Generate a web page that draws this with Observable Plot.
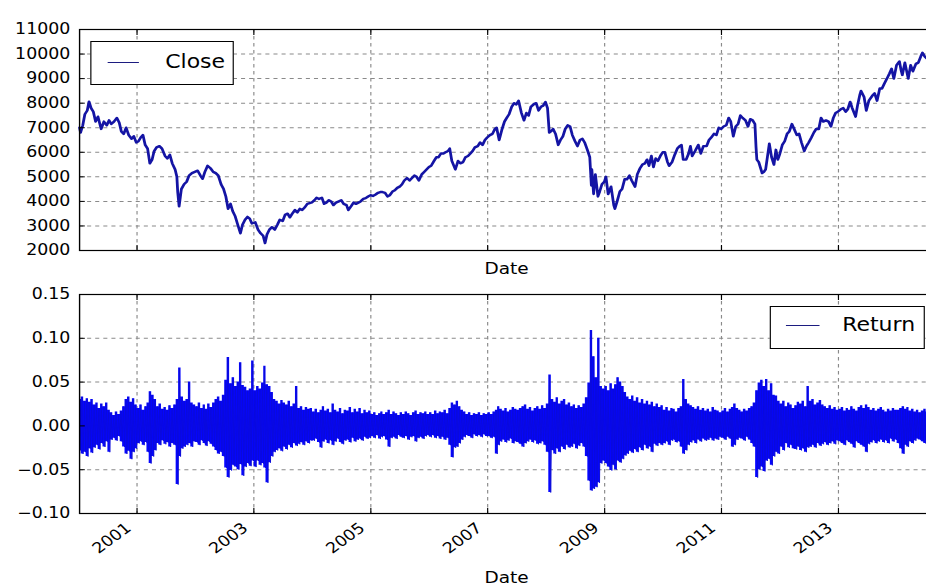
<!DOCTYPE html>
<html>
<head>
<meta charset="utf-8">
<script src="https://cdn.jsdelivr.net/npm/d3@7"></script>
<script src="https://cdn.jsdelivr.net/npm/@observablehq/plot@0.6"></script>
<style>
  html, body { margin: 0; padding: 0; background: #fff; }
  #outer { position: relative; width: 926px; height: 587px; overflow: hidden; background: #fff; }
  #inner { position: absolute; left: 0; top: 0; width: 806px; height: 587px; transform: scaleX(1.1575); transform-origin: 0 0; }
  .panel { position: absolute; left: 0; }
  .legend { position: absolute; background: #fff; border: 1px solid #000; box-sizing: border-box; font-family: "DejaVu Sans", sans-serif; font-size: 19px; color: #000; }
  .legend .swatch { position: absolute; height: 1.5px; background: #1c1c80; }
  .legend .label { position: absolute; line-height: 1; white-space: nowrap; }
</style>
</head>
<body>
<div id="outer">
  <div id="inner">
    <div id="top" class="panel" style="top:0"></div>
    <div id="bot" class="panel" style="top:290px"></div>
    <div class="legend" style="left:77.8px; top:41px; width:124.4px; height:44px;">
      <div class="swatch" style="left:13.8px; width:27.7px; top:19.5px;"></div>
      <div class="label" style="left:63.9px; top:10px;">Close</div>
    </div>
    <div class="legend" style="left:665.2px; top:306px; width:133.8px; height:43px;">
      <div class="swatch" style="left:13px; width:28.5px; top:17.5px;"></div>
      <div class="label" style="left:61.4px; top:8px;">Return</div>
    </div>
  </div>
</div>
<script>
// ---------------- data ----------------
const xTickYears = [2001, 2003, 2005, 2007, 2009, 2011, 2013];
const closeTicks = [2000, 3000, 4000, 5000, 6000, 7000, 8000, 9000, 10000, 11000];
const returnTicks = [-0.10, -0.05, 0.00, 0.05, 0.10, 0.15];

const closeDates = [
"2000-01-08","2000-01-14","2000-01-28","2000-02-10","2000-02-25","2000-03-07","2000-03-20","2000-04-03","2000-04-17","2000-05-02",
"2000-05-22","2000-06-08","2000-06-26","2000-07-10","2000-07-24","2000-08-10","2000-08-28","2000-09-12","2000-09-25","2000-10-10",
"2000-10-25","2000-11-10","2000-11-28","2000-12-12","2000-12-27","2001-01-10","2001-01-24","2001-02-07","2001-02-21","2001-03-08",
"2001-03-22","2001-04-05","2001-04-18","2001-05-03","2001-05-21","2001-06-06","2001-06-25","2001-07-10","2001-07-25","2001-08-09",
"2001-08-27","2001-09-07","2001-09-12","2001-09-21","2001-10-05","2001-10-22","2001-11-07","2001-11-22","2001-12-10","2001-12-28",
"2002-01-15","2002-02-01","2002-02-15","2002-03-01","2002-03-18","2002-04-05","2002-04-22","2002-05-08","2002-05-24","2002-06-10",
"2002-06-26","2002-07-10","2002-07-24","2002-08-08","2002-08-22","2002-09-06","2002-09-20","2002-10-09","2002-10-22","2002-11-07",
"2002-11-22","2002-12-06","2002-12-20","2003-01-10","2003-01-27","2003-02-12","2003-02-28","2003-03-12","2003-03-24","2003-04-08",
"2003-04-24","2003-05-12","2003-05-28","2003-06-12","2003-06-30","2003-07-15","2003-07-31","2003-08-14","2003-08-29","2003-09-15",
"2003-09-30","2003-10-15","2003-10-30","2003-11-14","2003-12-01","2003-12-30","2004-01-15","2004-01-28","2004-02-12","2004-03-01",
"2004-03-15","2004-03-29","2004-04-14","2004-04-28","2004-05-12","2004-05-28","2004-06-15","2004-06-30","2004-07-15","2004-08-02",
"2004-08-13","2004-08-30","2004-09-15","2004-09-30","2004-10-15","2004-10-29","2004-11-15","2004-11-30","2004-12-15","2004-12-30",
"2005-01-14","2005-01-31","2005-02-15","2005-03-01","2005-03-15","2005-03-31","2005-04-15","2005-04-29","2005-05-16","2005-05-31",
"2005-06-15","2005-06-30","2005-07-15","2005-07-29","2005-08-15","2005-08-31","2005-09-15","2005-09-30","2005-10-14","2005-10-28",
"2005-11-15","2005-11-30","2005-12-15","2005-12-30","2006-01-13","2006-01-31","2006-02-15","2006-02-28","2006-03-15","2006-03-31",
"2006-04-13","2006-04-28","2006-05-09","2006-05-22","2006-06-13","2006-06-30","2006-07-14","2006-07-31","2006-08-15","2006-08-31",
"2006-09-15","2006-09-29","2006-10-13","2006-10-31","2006-11-15","2006-11-30","2006-12-15","2006-12-29","2007-01-15","2007-01-31",
"2007-02-15","2007-02-26","2007-03-14","2007-03-30","2007-04-16","2007-04-30","2007-05-15","2007-05-31","2007-06-15","2007-06-29",
"2007-07-13","2007-07-31","2007-08-16","2007-08-31","2007-09-14","2007-09-28","2007-10-15","2007-10-31","2007-11-15","2007-11-30",
"2007-12-14","2007-12-28","2008-01-10","2008-01-21","2008-01-31","2008-02-14","2008-02-29","2008-03-17","2008-03-31","2008-04-15",
"2008-04-30","2008-05-15","2008-05-30","2008-06-13","2008-06-30","2008-07-15","2008-07-31","2008-08-15","2008-08-29","2008-09-15",
"2008-09-30","2008-10-10","2008-10-13","2008-10-24","2008-11-04","2008-11-20","2008-12-01","2008-12-15","2008-12-30","2009-01-09",
"2009-01-23","2009-02-10","2009-02-27","2009-03-06","2009-03-20","2009-04-06","2009-04-20","2009-05-06","2009-05-20","2009-06-05",
"2009-06-19","2009-07-10","2009-07-24","2009-08-10","2009-08-25","2009-09-10","2009-09-23","2009-10-05","2009-10-20","2009-11-02",
"2009-11-16","2009-11-30","2009-12-15","2009-12-30","2010-01-12","2010-01-29","2010-02-08","2010-02-26","2010-03-15","2010-03-31",
"2010-04-15","2010-04-26","2010-05-07","2010-05-25","2010-06-10","2010-06-21","2010-07-02","2010-07-20","2010-08-09","2010-08-25",
"2010-09-10","2010-09-30","2010-10-15","2010-10-29","2010-11-15","2010-11-30","2010-12-15","2010-12-30","2011-01-14","2011-01-31",
"2011-02-15","2011-02-28","2011-03-16","2011-03-31","2011-04-15","2011-04-29","2011-05-13","2011-05-31","2011-06-16","2011-06-30",
"2011-07-15","2011-07-29","2011-08-05","2011-08-10","2011-08-22","2011-09-12","2011-09-23","2011-10-04","2011-10-27","2011-11-10",
"2011-11-25","2011-12-07","2011-12-19","2011-12-30","2012-01-16","2012-01-31","2012-02-15","2012-02-29","2012-03-16","2012-03-30",
"2012-04-16","2012-04-30","2012-05-15","2012-06-01","2012-06-15","2012-06-29","2012-07-16","2012-07-31","2012-08-15","2012-08-31",
"2012-09-14","2012-09-28","2012-10-15","2012-10-31","2012-11-15","2012-11-30","2012-12-14","2012-12-28","2013-01-15","2013-01-31",
"2013-02-15","2013-02-28","2013-03-15","2013-03-28","2013-04-18","2013-04-30","2013-05-15","2013-05-22","2013-06-10","2013-06-24",
"2013-07-10","2013-07-31","2013-08-15","2013-08-30","2013-09-16","2013-09-30","2013-10-15","2013-10-31","2013-11-15","2013-11-29",
"2013-12-13","2013-12-30","2014-01-17","2014-01-27","2014-02-04","2014-02-20","2014-03-13","2014-03-28","2014-04-11","2014-04-30",
"2014-05-15","2014-05-30","2014-06-10","2014-06-24","2014-07-10"
];
const closeValues = [
7000,6800,7100,7550,7700,8060,7800,7650,7250,7450,
6950,7250,7100,7300,7150,7250,7400,7200,6850,6750,
7000,6700,6550,6650,6400,6450,6600,6700,6300,6150,
5550,5700,6050,6200,6250,6150,5850,5750,5900,5550,
5300,5000,4400,3800,4500,4700,4800,5050,5150,5200,
5250,5050,4920,5200,5450,5350,5200,5150,5050,4700,
4500,4200,3700,3900,3600,3400,3100,2700,3050,3250,
3370,3300,3100,3150,2850,2700,2600,2300,2650,2850,
2950,2850,3050,3250,3200,3450,3500,3350,3500,3650,
3550,3700,3650,3750,3900,3960,4050,4150,4100,4150,
3900,3950,4050,4000,3850,3950,4000,4050,3900,3850,
3650,3800,3950,3900,3950,4000,4100,4130,4200,4250,
4220,4280,4350,4380,4380,4350,4200,4250,4400,4450,
4550,4600,4700,4850,4950,4850,4950,5050,5000,4850,
5100,5200,5300,5400,5450,5650,5800,5800,5950,5950,
6000,6050,6150,5650,5300,5650,5550,5600,5800,5850,
5950,6050,6200,6250,6400,6300,6500,6600,6700,6750,
6950,7000,6500,6900,7250,7400,7550,7850,8000,7950,
8100,7600,7300,7600,7500,7850,7950,8000,7700,7850,
7900,8050,7800,6800,6850,6950,6750,6300,6500,6650,
6950,7100,7050,6700,6450,6250,6500,6550,6400,6100,
5800,4650,5300,4300,5100,4200,4400,4700,4800,5000,
4300,4600,3850,3700,4000,4400,4500,4900,4900,5050,
4850,4600,5100,5350,5500,5550,5700,5450,5850,5400,
5750,5650,5850,6000,6000,5600,5450,5600,5900,6150,
6250,6300,5700,5700,5950,6250,5850,6050,6300,5950,
6250,6250,6500,6600,6750,6700,7000,6950,7050,7100,
7400,7250,6650,7050,7150,7500,7400,7300,7050,7350,
7300,7150,6200,5700,5600,5150,5200,5300,6350,5800,
5500,6100,5700,5900,6300,6450,6750,6850,7150,6950,
6700,6750,6400,6050,6250,6400,6600,6800,6950,6950,
7400,7250,7300,7250,7050,7400,7600,7650,7750,7800,
7650,7750,8050,7800,7450,7900,8350,8500,8250,7700,
8100,8300,8400,8100,8600,8600,8800,9000,9200,9400,
9000,9550,9700,9350,9150,9650,9000,9550,9300,9600,
9650,9900,10050,9900,9800
];

// Daily return band, read per half-month: largest (retHigh) and smallest (retLow) return
const retHigh = [
// 2000
0.030,0.033,0.028,0.031,0.027,0.030, 0.024,0.026,0.020,0.025,0.022,0.026,
0.018,0.015,0.012,0.016,0.013,0.017, 0.022,0.030,0.033,0.027,0.031,0.024,
// 2001
0.020,0.024,0.018,0.022,0.026,0.039, 0.035,0.030,0.022,0.025,0.019,0.021,
0.018,0.023,0.020,0.024,0.030,0.066, 0.033,0.028,0.030,0.050,0.026,0.024,
// 2002
0.022,0.026,0.020,0.024,0.019,0.025, 0.021,0.026,0.030,0.033,0.028,0.035,
0.052,0.078,0.048,0.055,0.045,0.050, 0.072,0.046,0.044,0.040,0.042,0.074,
// 2003
0.040,0.045,0.042,0.049,0.068,0.047, 0.045,0.038,0.030,0.028,0.025,0.029,
0.026,0.024,0.028,0.022,0.025,0.045, 0.020,0.022,0.018,0.021,0.019,0.020,
// 2004
0.016,0.019,0.015,0.018,0.022,0.017, 0.019,0.015,0.025,0.018,0.016,0.020,
0.014,0.018,0.017,0.021,0.015,0.019, 0.016,0.020,0.014,0.018,0.015,0.017,
// 2005
0.013,0.015,0.012,0.014,0.016,0.013, 0.015,0.018,0.013,0.016,0.014,0.012,
0.015,0.013,0.016,0.014,0.012,0.015, 0.017,0.013,0.015,0.014,0.016,0.013,
// 2006
0.015,0.013,0.017,0.014,0.016,0.015, 0.018,0.014,0.020,0.026,0.024,0.028,
0.022,0.018,0.016,0.013,0.015,0.012, 0.014,0.013,0.015,0.012,0.014,0.013,
// 2007
0.015,0.013,0.016,0.018,0.022,0.019, 0.017,0.020,0.016,0.018,0.021,0.019,
0.018,0.020,0.022,0.024,0.019,0.021, 0.017,0.020,0.022,0.019,0.023,0.020,
// 2008
0.025,0.058,0.030,0.027,0.032,0.025, 0.028,0.030,0.024,0.026,0.022,0.024,
0.020,0.023,0.021,0.025,0.032,0.049, 0.109,0.079,0.055,0.100,0.045,0.042,
// 2009
0.045,0.040,0.048,0.042,0.047,0.055, 0.050,0.045,0.038,0.033,0.030,0.034,
0.028,0.032,0.026,0.030,0.025,0.028, 0.024,0.027,0.022,0.025,0.021,0.023,
// 2010
0.018,0.021,0.017,0.020,0.019,0.016, 0.020,0.022,0.053,0.030,0.025,0.023,
0.021,0.019,0.022,0.018,0.020,0.017, 0.019,0.016,0.021,0.018,0.017,0.015,
// 2011
0.017,0.020,0.016,0.019,0.021,0.025, 0.020,0.018,0.016,0.019,0.017,0.020,
0.022,0.026,0.040,0.049,0.052,0.045, 0.053,0.040,0.048,0.035,0.034,0.028,
// 2012
0.025,0.028,0.022,0.026,0.024,0.020, 0.023,0.027,0.025,0.028,0.022,0.045,
0.028,0.030,0.024,0.026,0.029,0.024, 0.022,0.020,0.023,0.019,0.021,0.018,
// 2013
0.019,0.021,0.017,0.020,0.018,0.022, 0.019,0.017,0.021,0.023,0.020,0.024,
0.021,0.018,0.020,0.017,0.019,0.021, 0.018,0.016,0.019,0.017,0.020,0.018,
// 2014
0.018,0.020,0.022,0.019,0.021,0.017, 0.019,0.016,0.018,0.015,0.017,0.019,
0.016
];
const retLow = [
// 2000
-0.028,-0.032,-0.030,-0.035,-0.026,-0.031, -0.025,-0.022,-0.027,-0.020,-0.024,-0.018,
-0.030,-0.016,-0.014,-0.017,-0.012,-0.018, -0.024,-0.032,-0.029,-0.038,-0.030,-0.026,
// 2001
-0.020,-0.018,-0.022,-0.019,-0.030,-0.043, -0.035,-0.028,-0.020,-0.022,-0.017,-0.021,
-0.019,-0.024,-0.020,-0.022,-0.067,-0.035, -0.026,-0.024,-0.022,-0.020,-0.024,-0.018,
// 2002
-0.019,-0.022,-0.017,-0.020,-0.023,-0.018, -0.021,-0.024,-0.028,-0.032,-0.030,-0.035,
-0.048,-0.059,-0.051,-0.045,-0.047,-0.050, -0.044,-0.057,-0.047,-0.043,-0.046,-0.040,
// 2003
-0.047,-0.040,-0.045,-0.043,-0.048,-0.065, -0.042,-0.035,-0.030,-0.028,-0.026,-0.029,
-0.024,-0.027,-0.022,-0.025,-0.020,-0.023, -0.021,-0.019,-0.022,-0.018,-0.020,-0.017,
// 2004
-0.017,-0.015,-0.019,-0.025,-0.018,-0.016, -0.020,-0.017,-0.022,-0.018,-0.015,-0.019,
-0.021,-0.017,-0.016,-0.019,-0.014,-0.018, -0.016,-0.015,-0.017,-0.013,-0.015,-0.014,
// 2005
-0.012,-0.014,-0.011,-0.015,-0.013,-0.012, -0.016,-0.024,-0.014,-0.013,-0.015,-0.011,
-0.013,-0.014,-0.012,-0.016,-0.013,-0.012, -0.018,-0.014,-0.013,-0.015,-0.012,-0.011,
// 2006
-0.013,-0.011,-0.014,-0.012,-0.015,-0.013, -0.016,-0.014,-0.022,-0.036,-0.025,-0.024,
-0.020,-0.016,-0.013,-0.011,-0.012,-0.014, -0.010,-0.012,-0.011,-0.013,-0.010,-0.012,
// 2007
-0.012,-0.014,-0.013,-0.032,-0.022,-0.018, -0.016,-0.019,-0.017,-0.015,-0.020,-0.018,
-0.019,-0.021,-0.024,-0.020,-0.018,-0.016, -0.019,-0.017,-0.021,-0.020,-0.018,-0.022,
// 2008
-0.030,-0.076,-0.028,-0.032,-0.026,-0.030, -0.024,-0.027,-0.022,-0.025,-0.024,-0.021,
-0.026,-0.023,-0.020,-0.024,-0.035,-0.063, -0.074,-0.072,-0.070,-0.065,-0.043,-0.040,
// 2009
-0.043,-0.047,-0.051,-0.045,-0.050,-0.040, -0.042,-0.038,-0.034,-0.032,-0.029,-0.031,
-0.027,-0.030,-0.025,-0.028,-0.022,-0.026, -0.024,-0.030,-0.021,-0.023,-0.020,-0.022,
// 2010
-0.020,-0.018,-0.022,-0.017,-0.016,-0.019, -0.018,-0.024,-0.032,-0.028,-0.022,-0.019,
-0.017,-0.020,-0.016,-0.018,-0.015,-0.017, -0.016,-0.014,-0.017,-0.015,-0.016,-0.013,
// 2011
-0.014,-0.016,-0.013,-0.015,-0.024,-0.022, -0.016,-0.014,-0.015,-0.017,-0.013,-0.016,
-0.020,-0.024,-0.059,-0.050,-0.047,-0.052, -0.040,-0.038,-0.045,-0.035,-0.030,-0.032,
// 2012
-0.024,-0.028,-0.020,-0.025,-0.022,-0.026, -0.027,-0.024,-0.028,-0.026,-0.030,-0.025,
-0.024,-0.022,-0.025,-0.020,-0.023,-0.021, -0.019,-0.022,-0.020,-0.018,-0.021,-0.017,
// 2013
-0.018,-0.020,-0.022,-0.017,-0.019,-0.021, -0.025,-0.018,-0.020,-0.022,-0.024,-0.030,
-0.021,-0.019,-0.017,-0.020,-0.018,-0.016, -0.019,-0.017,-0.020,-0.015,-0.018,-0.016,
// 2014
-0.020,-0.026,-0.032,-0.022,-0.024,-0.018, -0.020,-0.017,-0.015,-0.016,-0.018,-0.020,
-0.017
];

// ---------------- build tables ----------------
const closeData = closeDates.map((d, i) => ({date: new Date(d + "T00:00:00Z"), value: closeValues[i]}));
const retData = [];
const bandData = [];
retHigh.forEach((h, k) => {
  const y = 2000 + Math.floor(k / 24), m = Math.floor((k % 24) / 2), half = k % 2;
  retData.push({date: new Date(Date.UTC(y, m, 8 + 15 * half)), value: h});
  retData.push({date: new Date(Date.UTC(y, m, 15 + 15 * half)), value: retLow[k]});
  bandData.push({date: new Date(Date.UTC(y, m, 11 + 15 * half)), hi: h, lo: retLow[k]});
});
const xTickDates = xTickYears.map(y => new Date(Date.UTC(y, 0, 1)));
const xDomain = [new Date(Date.UTC(2000, 0, 8)), new Date(Date.UTC(2014, 7, 18))];

const FONT = "DejaVu Sans, sans-serif";
const gridStyle = {stroke: "#8a8a8a", strokeOpacity: 1, strokeWidth: 1, strokeDasharray: "3.5,3.5"};

function common(yTicks) {
  return [
    Plot.gridX(xTickDates, gridStyle),
    Plot.gridY(yTicks, gridStyle),
  ];
}
function spines(yTicks, yFormat) {
  return [
    Plot.frame({stroke: "#000", strokeWidth: 1.2}),
    Plot.axisX(xTickDates, {anchor: "bottom", tickSize: 5, dy: -5, tickFormat: () => "", label: null, stroke: "#000"}),
    Plot.axisX(xTickDates, {anchor: "top", tickSize: 5, dy: 5, tickFormat: () => "", label: null, stroke: "#000"}),
    Plot.axisY(yTicks, {anchor: "left", tickSize: 5, dx: 5, tickFormat: () => "", label: null, stroke: "#000"}),
    Plot.axisY(yTicks, {anchor: "left", tickSize: 0, tickPadding: 8, tickFormat: yFormat, label: null, fontSize: 15, fill: "#000"})
  ];
}

const topChart = Plot.plot({
  width: 806, height: 290,
  marginLeft: 68.25, marginRight: 0, marginTop: 29, marginBottom: 40,
  style: {fontFamily: FONT, fontSize: "15px", background: "transparent", overflow: "visible", color: "#000"},
  x: {type: "utc", domain: xDomain, axis: null, label: null},
  y: {domain: [2000, 11000], axis: null, label: null},
  marks: [
    ...common(closeTicks),
    Plot.line(closeData, {x: "date", y: "value", stroke: "#1414a4", strokeWidth: 2.4}),
    ...spines(closeTicks, d => String(d)),
    Plot.text(["Date"], {text: d => d, frameAnchor: "bottom", dy: 18, fontSize: 16, lineAnchor: "middle", fill: "#000"})
  ]
});

const botChart = Plot.plot({
  width: 806, height: 297,
  marginLeft: 68.25, marginRight: 0, marginTop: 4, marginBottom: 74,
  style: {fontFamily: FONT, fontSize: "15px", background: "transparent", overflow: "visible", color: "#000"},
  x: {type: "utc", domain: xDomain, axis: null, label: null},
  y: {domain: [-0.10, 0.15], axis: null, label: null},
  marks: [
    ...common(returnTicks),
    Plot.areaY(bandData, {x: "date", y1: "lo", y2: "hi", curve: "step", fill: "#0505ff", clip: true}),
    Plot.line(retData, {x: "date", y: "value", stroke: "#0a0ad8", strokeWidth: 0.8, clip: true}),
    ...spines(returnTicks, d3.format(".2f")),
    Plot.text(xTickDates, {x: d => d, frameAnchor: "bottom", text: d => String(d.getUTCFullYear()),
      rotate: -40, textAnchor: "end", lineAnchor: "top", dx: -11, dy: 8, fontSize: 15, fill: "#000"}),
    Plot.text(["Date"], {text: d => d, frameAnchor: "bottom", dy: 64, fontSize: 16, lineAnchor: "middle", fill: "#000"})
  ]
});

document.getElementById("top").appendChild(topChart);
document.getElementById("bot").appendChild(botChart);
</script>
</body>
</html>
